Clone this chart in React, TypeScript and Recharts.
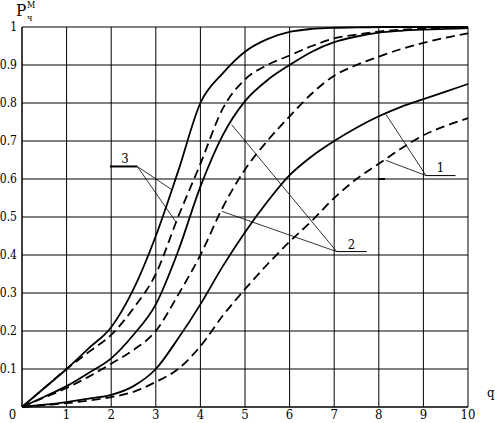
import React from "react";
import {
  LineChart,
  Line,
  XAxis,
  YAxis,
  CartesianGrid,
  ReferenceLine,
  Customized,
} from "recharts";

// q values
const Q = [0, 0.5, 1, 1.5, 2, 2.5, 3, 3.5, 4, 4.5, 5, 5.5, 6, 6.5, 7, 7.5, 8, 8.5, 9, 9.5, 10];

// curve 3
const S3 = [0, 0.05, 0.1, 0.155, 0.21, 0.31, 0.45, 0.62, 0.8, 0.878, 0.935, 0.968, 0.987, 0.995, 0.998, 0.999, 1, 1, 1, 1, 1];
const D3 = [0, 0.05, 0.1, 0.145, 0.19, 0.26, 0.35, 0.5, 0.64, 0.785, 0.862, 0.9, 0.925, 0.95, 0.97, 0.98, 0.988, 0.993, 0.996, 0.998, 1];
// curve 2
const S2 = [0, 0.027, 0.055, 0.09, 0.128, 0.19, 0.27, 0.41, 0.58, 0.715, 0.805, 0.86, 0.9, 0.935, 0.96, 0.975, 0.985, 0.99, 0.993, 0.995, 0.997];
const D2 = [0, 0.025, 0.05, 0.08, 0.114, 0.15, 0.2, 0.295, 0.4, 0.525, 0.625, 0.7, 0.765, 0.825, 0.872, 0.9, 0.922, 0.942, 0.958, 0.972, 0.983];
// curve 1
const S1 = [0, 0.006, 0.013, 0.022, 0.032, 0.055, 0.1, 0.18, 0.27, 0.37, 0.46, 0.54, 0.61, 0.66, 0.7, 0.735, 0.765, 0.79, 0.81, 0.83, 0.85];
const D1 = [0, 0.005, 0.01, 0.017, 0.026, 0.04, 0.066, 0.1, 0.16, 0.24, 0.31, 0.375, 0.435, 0.49, 0.55, 0.6, 0.64, 0.68, 0.715, 0.74, 0.76];

const X_TICKS = [0, 1, 2, 3, 4, 5, 6, 7, 8, 9, 10];
const Y_TICKS = [0, 0.1, 0.2, 0.3, 0.4, 0.5, 0.6, 0.7, 0.8, 0.9, 1];
const Y_LABELS = ["", "0.1", "0.2", "0.3", "0.4", "0.5", "0.6", "0.7", "0.8", "0.9", "1"];

const data = Q.map((q, i) => ({
  q,
  s1: S1[i],
  d1: D1[i],
  s2: S2[i],
  d2: D2[i],
  s3: S3[i],
  d3: D3[i],
}));

const FONT = "DejaVu Serif Condensed, DejaVu Serif, serif";
const DASH = "9 5";

const XTick = (props: any) => {
  const { x, y, payload } = props;
  const v = payload.value;
  return (
    <text
      x={v === 0 ? x - 9.5 : x}
      y={y - 5}
      dy="0.71em"
      textAnchor="middle"
      fill="#000"
      fontFamily={FONT}
      fontStretch="condensed"
      fontSize={13}
    >
      {v}
    </text>
  );
};

const Titles = () => (
  <g fill="#000" fontFamily={FONT} fontStretch="condensed">
    <text x={16} y={16} fontSize={17}>P</text>
    <text x={27} y={21} fontSize={9}>ч</text>
    <text x={27} y={8} fontSize={9}>М</text>
    <text x={487} y={397} fontSize={13}>q</text>
    <text x={125} y={163} textAnchor="middle" fontSize={13}>3</text>
    <text x={351.5} y={249} textAnchor="middle" fontSize={13}>2</text>
    <text x={440.5} y={172} textAnchor="middle" fontSize={13}>1</text>
  </g>
);

// leader lines for the curve numbers
const LEADERS = [
  { a: { x: 1.97, y: 0.633 }, b: { x: 2.585, y: 0.633 }, w: 2 },
  { a: { x: 2.585, y: 0.633 }, b: { x: 3.356, y: 0.572 }, w: 0.8 },
  { a: { x: 2.585, y: 0.633 }, b: { x: 3.469, y: 0.484 }, w: 0.8 },
  { a: { x: 7.056, y: 0.409 }, b: { x: 7.73, y: 0.409 }, w: 1 },
  { a: { x: 7.056, y: 0.409 }, b: { x: 4.7, y: 0.743 }, w: 0.8 },
  { a: { x: 7.056, y: 0.409 }, b: { x: 4.478, y: 0.515 }, w: 0.8 },
  { a: { x: 9.06, y: 0.609 }, b: { x: 9.72, y: 0.609 }, w: 1 },
  { a: { x: 9.06, y: 0.609 }, b: { x: 8.16, y: 0.77 }, w: 0.8 },
  { a: { x: 9.06, y: 0.609 }, b: { x: 8.16, y: 0.649 }, w: 0.8 },
  { a: { x: 7.98, y: 0.6 }, b: { x: 8.14, y: 0.6 }, w: 2 },
];

export default function App() {
  return (
    <div style={{ position: "absolute", left: 0, top: 0, background: "#fff" }}>
      <LineChart
        width={495}
        height={423}
        data={data}
        margin={{ top: 27, right: 27, left: 0, bottom: 0 }}
      >
        <CartesianGrid stroke="#000" strokeWidth={1} />
        <XAxis
          dataKey="q"
          type="number"
          domain={[0, 10]}
          ticks={X_TICKS}
          height={16}
          tick={<XTick />}
          tickLine={false}
          axisLine={{ stroke: "#000" }}
        />
        <YAxis
          type="number"
          domain={[0, 1]}
          ticks={Y_TICKS}
          width={22}
          tickSize={4}
          tickMargin={1}
          tickLine={false}
          axisLine={{ stroke: "#000" }}
          tickFormatter={(v: number) => Y_LABELS[Y_TICKS.indexOf(v)] ?? ""}
          tick={{ fill: "#000", fontSize: 12, fontFamily: FONT, fontStretch: "condensed" }}
        />
        <Line type="monotone" dataKey="s1" stroke="#000" strokeWidth={1.8} dot={false} isAnimationActive={false} />
        <Line type="monotone" dataKey="d1" stroke="#000" strokeWidth={1.8} strokeDasharray={DASH} dot={false} isAnimationActive={false} />
        <Line type="monotone" dataKey="s2" stroke="#000" strokeWidth={1.8} dot={false} isAnimationActive={false} />
        <Line type="monotone" dataKey="d2" stroke="#000" strokeWidth={1.8} strokeDasharray={DASH} dot={false} isAnimationActive={false} />
        <Line type="monotone" dataKey="s3" stroke="#000" strokeWidth={1.8} dot={false} isAnimationActive={false} />
        <Line type="monotone" dataKey="d3" stroke="#000" strokeWidth={1.8} strokeDasharray={DASH} dot={false} isAnimationActive={false} />
        {LEADERS.map((l, i) => (
          <ReferenceLine
            key={i}
            segment={[l.a, l.b]}
            stroke="#000"
            strokeWidth={l.w}
            ifOverflow="visible"
          />
        ))}
        <Customized component={Titles} />
      </LineChart>
    </div>
  );
}
